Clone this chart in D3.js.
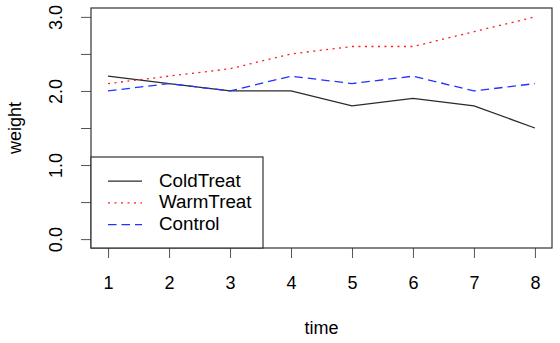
<!DOCTYPE html>
<html>
<head>
<meta charset="utf-8">
<script src="https://cdn.jsdelivr.net/npm/d3@7"></script>
<style>
  body { margin: 0; background: #fff; }
  text { font-family: "Liberation Sans", Arial, Helvetica, sans-serif; fill: #000; }
</style>
</head>
<body>
<div id="chart"></div>
<script>
// data
var time = [1, 2, 3, 4, 5, 6, 7, 8];
var coldTreat = [2.2, 2.1, 2.0, 2.0, 1.8, 1.9, 1.8, 1.5];
var warmTreat = [2.1, 2.2, 2.3, 2.5, 2.6, 2.6, 2.8, 3.0];
var control = [2.0, 2.1, 2.0, 2.2, 2.1, 2.2, 2.0, 2.1];
var seriesNames = ["ColdTreat", "WarmTreat", "Control"];
var yTicks = [0, 0.5, 1, 1.5, 2, 2.5, 3];

var w = 560, h = 343;
var box = {left: 91, top: 8, right: 552, bottom: 248};

var svg = d3.select("#chart").append("svg")
    .attr("width", w)
    .attr("height", h);

// R style 4% padding on each axis
var x = d3.scaleLinear().domain([1 - 0.28, 8 + 0.28]).range([box.left, box.right]);
var y = d3.scaleLinear().domain([0 - 0.12, 3 + 0.12]).range([box.bottom, box.top]);

var series = [
  {name: seriesNames[0], values: coldTreat, color: "#2a2a2a", dash: null},
  {name: seriesNames[1], values: warmTreat, color: "#ff1a1a", dash: "2,4.5"},
  {name: seriesNames[2], values: control, color: "#2233ff", dash: "8.5,5"}
];

var line = d3.line()
    .x(function(d, i) { return x(time[i]); })
    .y(function(d) { return y(d); });

series.forEach(function(s) {
  svg.append("path")
      .attr("d", line(s.values))
      .attr("fill", "none")
      .attr("stroke", s.color)
      .attr("stroke-width", 1.3)
      .attr("stroke-dasharray", s.dash);
});

// x axis
var xAxis = svg.append("g")
    .attr("transform", "translate(0," + box.bottom + ")")
    .call(d3.axisBottom(x).tickValues(time).tickSize(10).tickFormat(d3.format("d")));
xAxis.select(".domain").remove();
xAxis.selectAll("line").attr("stroke", "#555");
xAxis.selectAll("text")
    .attr("y", 41).attr("dy", null)
    .style("font-size", "18px")
    .style("font-family", "'Liberation Sans', Arial, sans-serif")
    .attr("fill", "#000");

// y axis
var yAxis = svg.append("g")
    .attr("transform", "translate(" + box.left + ",0)")
    .call(d3.axisLeft(y).tickValues(yTicks).tickSize(10)
      .tickFormat(function(d) { return d % 1 === 0 ? d3.format(".1f")(d) : ""; }));
yAxis.select(".domain").remove();
yAxis.selectAll("line").attr("stroke", "#555");
yAxis.selectAll("text")
    .attr("x", null).attr("dy", null)
    .attr("text-anchor", "middle")
    .attr("transform", "translate(-29,0) rotate(-90)")
    .style("font-size", "18px")
    .style("font-family", "'Liberation Sans', Arial, sans-serif")
    .attr("fill", "#000");

// plot box
svg.append("rect")
    .attr("x", box.left).attr("y", box.top)
    .attr("width", box.right - box.left)
    .attr("height", box.bottom - box.top)
    .attr("fill", "none")
    .attr("stroke", "#333")
    .attr("stroke-width", 1.2);

// axis titles
svg.append("text")
    .attr("x", (box.left + box.right) / 2)
    .attr("y", 334)
    .attr("text-anchor", "middle")
    .style("font-size", "18px")
    .text("time");

svg.append("text")
    .attr("transform", "translate(21," + (box.top + box.bottom) / 2 + ") rotate(-90)")
    .attr("text-anchor", "middle")
    .style("font-size", "18px")
    .text("weight");

// legend
var legend = svg.append("g");
legend.append("rect")
    .attr("x", box.left).attr("y", 157)
    .attr("width", 263 - box.left)
    .attr("height", box.bottom - 157)
    .attr("fill", "#fff")
    .attr("stroke", "#333")
    .attr("stroke-width", 1.2);

var rows = legend.selectAll("g.row")
    .data(series)
    .enter()
    .append("g")
    .attr("class", "row")
    .attr("transform", function(d, i) { return "translate(0," + (186.7 + i * 21.7) + ")"; });

rows.append("line")
    .attr("x1", 108).attr("x2", 142)
    .attr("y1", -5.5).attr("y2", -5.5)
    .attr("stroke", function(d) { return d.color; })
    .attr("stroke-width", 1.2)
    .attr("stroke-dasharray", function(d) { return d.dash; });

rows.append("text")
    .attr("x", 159)
    .attr("y", 0)
    .style("font-size", "18.8px")
    .text(function(d) { return d.name; });
</script>
</body>
</html>
